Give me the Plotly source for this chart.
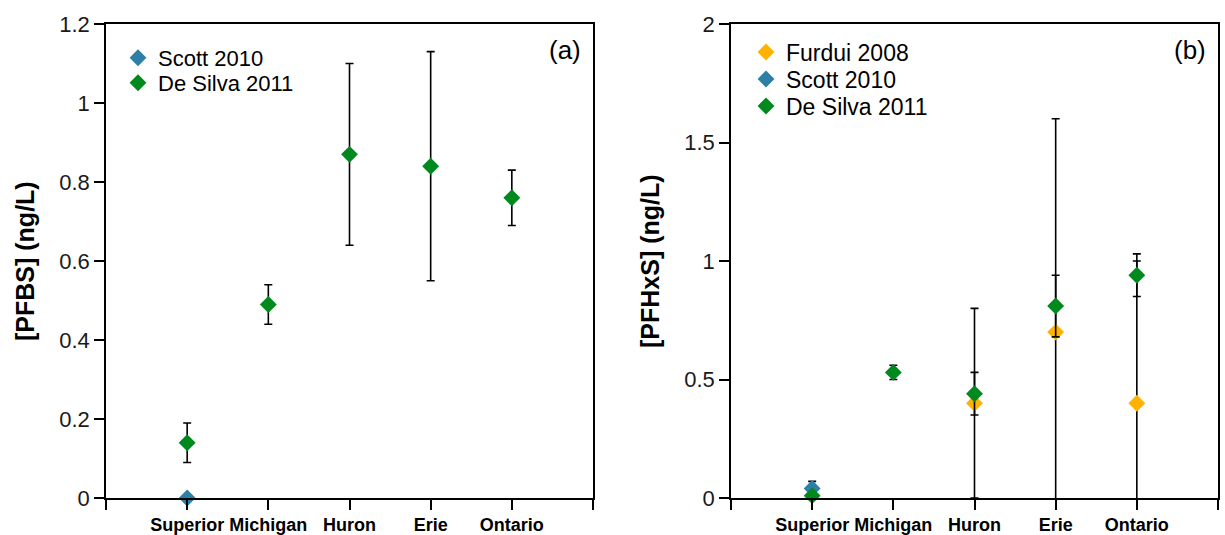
import plotly.graph_objects as go

lakes = ["Superior", "Michigan", "Huron", "Erie", "Ontario"]
lake_pos = [1, 2, 3, 4, 5]

# Panel (a) PFBS
a_scott_x = ["Superior"]
a_scott_y = [0.0]
a_desilva_y = [0.14, 0.49, 0.87, 0.84, 0.76]
a_desilva_err = [0.05, 0.05, 0.23, 0.29, 0.07]

# Panel (b) PFHxS
b_furdui_x = ["Huron", "Erie", "Ontario"]
b_furdui_y = [0.40, 0.70, 0.40]
b_furdui_err = [0.40, 0.90, 0.60]
b_scott_x = ["Superior"]
b_scott_y = [0.04]
b_scott_err = [0.03]
b_desilva_y = [0.01, 0.53, 0.44, 0.81, 0.94]
b_desilva_err = [0.0, 0.03, 0.09, 0.13, 0.09]

C_SCOTT = "#2E7FA6"
C_DESILVA = "#008A1E"
C_FURDUI = "#FFB300"

pos = dict(zip(lakes, lake_pos))
W, H = 1225, 535
FONT = "Arial, 'Liberation Sans', sans-serif"
MS = 13

fig = go.Figure()


def err(vals):
    return dict(type="data", array=vals, visible=True, color="black",
                thickness=1.6, width=4)


# panel a
fig.add_trace(go.Scatter(x=[pos[c] for c in a_scott_x], y=a_scott_y, mode="markers",
                         name="Scott 2010", cliponaxis=False, showlegend=True,
                         marker=dict(symbol="diamond", size=MS, color=C_SCOTT),
                         xaxis="x", yaxis="y", legend="legend"))
fig.add_trace(go.Scatter(x=lake_pos, y=a_desilva_y, mode="markers", name="De Silva 2011",
                         error_y=err(a_desilva_err), cliponaxis=False, showlegend=True,
                         marker=dict(symbol="diamond", size=MS, color=C_DESILVA),
                         xaxis="x", yaxis="y", legend="legend2"))

# panel b
fig.add_trace(go.Scatter(x=[pos[c] for c in b_furdui_x], y=b_furdui_y, mode="markers",
                         name="Furdui 2008", error_y=err(b_furdui_err), cliponaxis=True,
                         showlegend=True,
                         marker=dict(symbol="diamond", size=MS, color=C_FURDUI),
                         xaxis="x2", yaxis="y2", legend="legend3"))
fig.add_trace(go.Scatter(x=[pos[c] for c in b_scott_x], y=b_scott_y, mode="markers",
                         name="Scott 2010", error_y=err(b_scott_err), cliponaxis=False,
                         showlegend=True,
                         marker=dict(symbol="diamond", size=MS, color=C_SCOTT),
                         xaxis="x2", yaxis="y2", legend="legend4"))
fig.add_trace(go.Scatter(x=lake_pos, y=b_desilva_y, mode="markers", name="De Silva 2011",
                         error_y=err(b_desilva_err), cliponaxis=False, showlegend=True,
                         marker=dict(symbol="diamond", size=MS, color=C_DESILVA),
                         xaxis="x2", yaxis="y2", legend="legend5"))


def px_x(p):
    return p / W


def px_y(p):
    return 1 - p / H


xaxis_common = dict(range=[0, 6], tickvals=[0] + lake_pos + [6],
                    ticktext=[""] + lakes + [""], showline=True, linecolor="black",
                    linewidth=1.5, mirror=True, ticks="outside", ticklen=10, tickwidth=1.5,
                    tickcolor="black", showgrid=False, zeroline=False, automargin=False,
                    ticklabelstandoff=0,
                    tickfont=dict(family=FONT, size=18, color="black", weight="bold"))
yaxis_common = dict(showline=True, linecolor="black", linewidth=1.5, mirror=True,
                    ticks="outside", ticklen=10, tickwidth=1.5, tickcolor="black",
                    showgrid=False, zeroline=False, automargin=False,
                    tickfont=dict(family=FONT, size=22, color="#1a1a1a"))


def leg(xp, yp, size):
    return dict(x=px_x(xp), y=px_y(yp), xanchor="left", yanchor="middle",
                bgcolor="rgba(0,0,0,0)", borderwidth=0,
                font=dict(family=FONT, size=size, color="black"),
                itemwidth=30)


fig.update_layout(
    width=W, height=H, margin=dict(l=0, r=0, t=0, b=0),
    plot_bgcolor="white", paper_bgcolor="white", showlegend=True,
    font=dict(family=FONT, color="black"),
    xaxis=dict(domain=[px_x(106), px_x(593)], anchor="y", **xaxis_common),
    yaxis=dict(domain=[px_y(498), px_y(24)], anchor="x", range=[0, 1.2],
               tickvals=[0, 0.2, 0.4, 0.6, 0.8, 1.0, 1.2],
               ticktext=["0", "0.2", "0.4", "0.6", "0.8", "1", "1.2"], **yaxis_common),
    xaxis2=dict(domain=[px_x(731), px_x(1218)], anchor="y2", **xaxis_common),
    yaxis2=dict(domain=[px_y(498), px_y(24)], anchor="x2", range=[0, 2],
                tickvals=[0, 0.5, 1, 1.5, 2],
                ticktext=["0", "0.5", "1", "1.5", "2"], **yaxis_common),
    legend=leg(118, 58, 22),
    legend2=leg(118, 83, 22),
    legend3=leg(746, 52, 23),
    legend4=leg(746, 79, 23),
    legend5=leg(746, 106, 23),
    annotations=[
        dict(text="<b>[PFBS] (ng/L)</b>", x=px_x(25), y=px_y(261), xref="paper", yref="paper",
             textangle=-90, showarrow=False, font=dict(family=FONT, size=25, color="black"),
             xanchor="center", yanchor="middle"),
        dict(text="<b>[PFHxS] (ng/L)</b>", x=px_x(650), y=px_y(261), xref="paper", yref="paper",
             textangle=-90, showarrow=False, font=dict(family=FONT, size=25, color="black"),
             xanchor="center", yanchor="middle"),
        dict(text="(a)", x=px_x(565), y=px_y(50), xref="paper", yref="paper",
             showarrow=False, font=dict(family=FONT, size=26, color="black"),
             xanchor="center", yanchor="middle"),
        dict(text="(b)", x=px_x(1190), y=px_y(50), xref="paper", yref="paper",
             showarrow=False, font=dict(family=FONT, size=26, color="black"),
             xanchor="center", yanchor="middle"),
    ],
)

fig.write_html("out.html")
